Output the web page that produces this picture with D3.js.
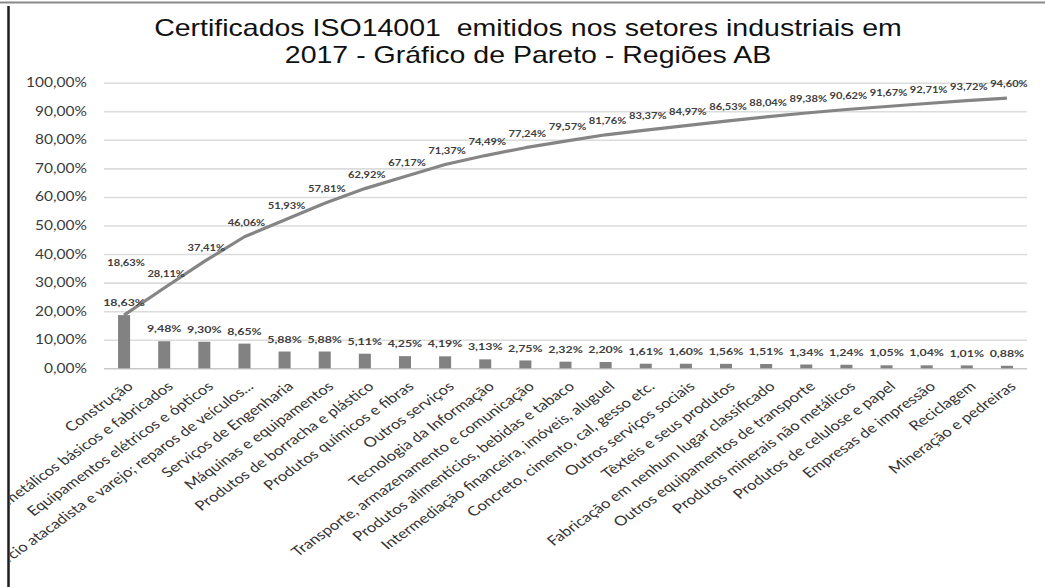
<!DOCTYPE html>
<html>
<head>
<meta charset="utf-8">
<script src="https://cdn.jsdelivr.net/npm/d3@7"></script>
<style>
  html, body { margin: 0; padding: 0; background: #fff; }
  svg { display: block; }
</style>
</head>
<body>
<svg id="chart" width="1045" height="587"></svg>
<script>
// Sectors, ordered by share of ISO 14001 certificates (Pareto order)
const categories = [
  "Construção",
  "Produtos metálicos básicos e fabricados",
  "Equipamentos elétricos e ópticos",
  "Comércio atacadista e varejo; reparos de veículos...",
  "Serviços de Engenharia",
  "Máquinas e equipamentos",
  "Produtos de borracha e plástico",
  "Produtos químicos e fibras",
  "Outros serviços",
  "Tecnologia da Informação",
  "Transporte, armazenamento e comunicação",
  "Produtos alimentícios, bebidas e tabaco",
  "Intermediação financeira, imóveis, aluguel",
  "Concreto, cimento, cal, gesso etc.",
  "Outros serviços sociais",
  "Têxteis e seus produtos",
  "Fabricação em nenhum lugar classificado",
  "Outros equipamentos de transporte",
  "Produtos minerais não metálicos",
  "Produtos de celulose e papel",
  "Empresas de impressão",
  "Reciclagem",
  "Mineração e pedreiras"
];

// Share of each sector (%)
const shares = [18.63, 9.48, 9.30, 8.65, 5.88, 5.88, 5.11, 4.25, 4.19, 3.13, 2.75, 2.32,
                2.20, 1.61, 1.60, 1.56, 1.51, 1.34, 1.24, 1.05, 1.04, 1.01, 0.88];

// Cumulative share (%)
const cumulative = [18.63, 28.11, 37.41, 46.06, 51.93, 57.81, 62.92, 67.17, 71.37, 74.49, 77.24, 79.57,
                    81.76, 83.37, 84.97, 86.53, 88.04, 89.38, 90.62, 91.67, 92.71, 93.72, 94.60];

// Y axis ticks (fraction of 100%)
const yTicks = [0, 0.1, 0.2, 0.3, 0.4, 0.5, 0.6, 0.7, 0.8, 0.9, 1.0];

const titleLines = [
  "Certificados ISO14001\u00a0 emitidos nos setores industriais em",
  "2017 - Gráfico de Pareto - Regiões AB"
];

const ptBR = d3.formatLocale({ decimal: ",", thousands: ".", grouping: [3], currency: ["R$", ""] });
const fmtTick = ptBR.format(".2%");
const fmtVal = v => ptBR.format(".2f")(v) + "%";

const svg = d3.select("#chart");
const W = 1045, H = 587;
const SX = 1.24;            // horizontal text stretch
const plot = { left: 104, right: 1027, top: 82.7, bottom: 368.3 };

const x = d3.scaleBand()
  .domain(categories)
  .range([plot.left, plot.right])
  .paddingInner(0.7)
  .paddingOuter(0.35);

const y = d3.scaleLinear()
  .domain([0, 100])
  .range([plot.bottom, plot.top]);

const cx = c => x(c) + x.bandwidth() / 2;

// Frame
svg.append("line").attr("x1", 0).attr("x2", W).attr("y1", 2.5).attr("y2", 2.5)
  .attr("stroke", "#8a8a8a").attr("stroke-width", 2);
svg.append("line").attr("x1", 8.5).attr("x2", 8.5).attr("y1", 6).attr("y2", H)
  .attr("stroke", "#1e1e1e").attr("stroke-width", 2.5);

const clip = svg.append("defs").append("clipPath").attr("id", "area");
clip.append("rect").attr("x", 10).attr("y", 4).attr("width", W - 14).attr("height", H);

const root = svg.append("g").attr("clip-path", "url(#area)");

// Title
root.append("g").selectAll("text").data(titleLines).join("text")
  .attr("transform", (d, i) => `translate(528,${36 + i * 27}) scale(${SX},1)`)
  .attr("text-anchor", "middle")
  .attr("font-family", "'Liberation Sans', Arial, sans-serif")
  .attr("font-size", 23)
  .attr("fill", "#111")
  .text(d => d);

// Gridlines
const yAxis = d3.axisLeft(d3.scaleLinear().domain([0, 1]).range([plot.bottom, plot.top]))
  .tickValues(yTicks)
  .tickSize(-(plot.right - plot.left))
  .tickFormat("");
const gy = root.append("g").attr("transform", `translate(${plot.left},0)`).call(yAxis);
gy.select(".domain").remove();
gy.selectAll(".tick line").attr("stroke", d => d === 0 ? "#c8c8c8" : "#dcdcdc").attr("stroke-width", 1.6);

// Y tick labels
root.append("g").selectAll("text").data(yTicks).join("text")
  .attr("transform", d => `translate(87,${y(d * 100)}) scale(${SX},1)`)
  .attr("dy", "0.36em")
  .attr("text-anchor", "end")
  .attr("font-family", "Lato, 'Open Sans', sans-serif")
  .attr("font-size", 12.5)
  .attr("fill", "#3a3a3a")
  .text(d => fmtTick(d));

// Bars
root.append("g").selectAll("rect").data(categories).join("rect")
  .attr("x", c => x(c))
  .attr("width", x.bandwidth())
  .attr("y", (c, i) => y(shares[i]))
  .attr("height", (c, i) => y(0) - y(shares[i]))
  .attr("fill", "#828282");

// Cumulative line
const line = d3.line()
  .x((d, i) => cx(categories[i]))
  .y(d => y(d));
root.append("path").datum(cumulative)
  .attr("d", line)
  .attr("fill", "none")
  .attr("stroke", "#858585")
  .attr("stroke-width", 3.2)
  .attr("stroke-linejoin", "round");

// Bar value labels
const barLabelY = shares.map(v => y(v) - 12.5);
root.append("g").selectAll("text").data(shares).join("text")
  .attr("transform", (d, i) => `translate(${cx(categories[i])},${barLabelY[i]}) scale(${SX},1)`)
  .attr("dy", "0.36em")
  .attr("text-anchor", "middle")
  .attr("font-family", "Lato, 'Open Sans', sans-serif")
  .attr("font-weight", 700)
  .attr("font-size", 10)
  .attr("fill", "#404040")
  .text(d => fmtVal(d));

// Cumulative labels, lifted above the bar label where they would collide
const lineLabelY = cumulative.map((v, i) => {
  const yy = y(v) - 14;
  return Math.abs(yy - barLabelY[i]) < 16 ? barLabelY[i] - 40 : yy;
});
root.append("g").selectAll("text").data(cumulative).join("text")
  .attr("transform", (d, i) => `translate(${cx(categories[i]) + 2},${lineLabelY[i]}) scale(${SX},1)`)
  .attr("dy", "0.36em")
  .attr("text-anchor", "middle")
  .attr("font-family", "Lato, 'Open Sans', sans-serif")
  .attr("font-weight", 700)
  .attr("font-size", 9)
  .attr("fill", "#404040")
  .text(d => fmtVal(d));

// Category labels
root.append("g").selectAll("text").data(categories).join("text")
  .attr("transform", c => `translate(${cx(c) + 6},384) scale(${SX},1) rotate(-41.5)`)
  .attr("dy", "0.36em")
  .attr("text-anchor", "end")
  .attr("font-family", "Lato, 'Open Sans', sans-serif")
  .attr("font-size", 13.5)
  .attr("fill", "#333")
  .text(c => c);
</script>
</body>
</html>
